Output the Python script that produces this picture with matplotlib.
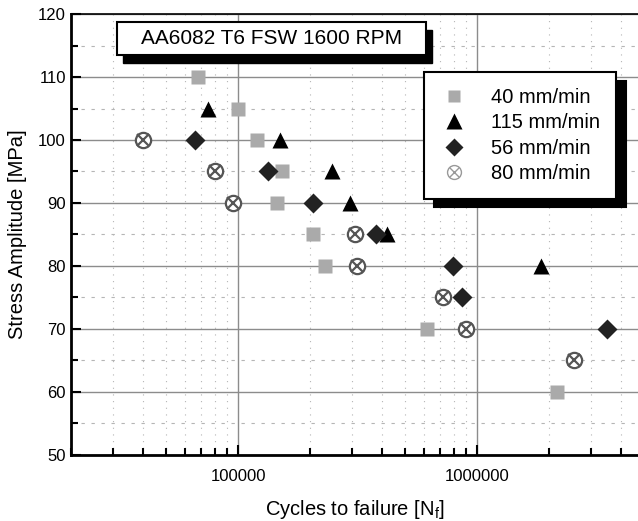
import matplotlib
matplotlib.use('Agg')
import matplotlib.pyplot as plt
from matplotlib.lines import Line2D
from matplotlib.patches import Rectangle
from matplotlib.ticker import FixedLocator, FuncFormatter, NullFormatter, LogLocator, MultipleLocator

plt.rcParams['font.family'] = ['Liberation Sans', 'DejaVu Sans']

# S-N data (cycles, stress amplitude MPa)
n_40 = [68000, 100000, 120000, 145000, 152000, 205000, 232000, 617000, 2150000]
s_40 = [110, 105, 100, 90, 95, 85, 80, 70, 60]

n_115 = [75000, 150000, 248000, 295000, 420000, 1850000]
s_115 = [105, 100, 95, 90, 85, 80]

n_56 = [66000, 134000, 205000, 378000, 789000, 863000, 3475000]
s_56 = [100, 95, 90, 85, 80, 75, 70]

n_80 = [40000, 80000, 95000, 308000, 315000, 717000, 897000, 2540000]
s_80 = [100, 95, 90, 85, 80, 75, 70, 65]

labels = ['40 mm/min', '115 mm/min', '56 mm/min', '80 mm/min']
title_text = 'AA6082 T6 FSW 1600 RPM'

fig = plt.figure(figsize=(6.38, 5.21), dpi=100)
ax = fig.add_axes([0.111, 0.127, 0.889, 0.846])

ax.plot(n_40, s_40, 's', color='#aaaaaa', ms=10, mec='none', zorder=5)
ax.plot(n_115, s_115, '^', color='black', ms=11, mec='none', zorder=5)
ax.plot(n_56, s_56, 'D', color='#222222', ms=10, mec='none', zorder=5)
ax.plot(n_80, s_80, 'o', mfc='white', mec='#555555', ms=11, mew=1.6, zorder=5)
ax.plot(n_80, s_80, 'x', color='#555555', ms=8, mew=1.6, zorder=6)

ax.set_xscale('log')
ax.set_xlim(20000, 4700000)
ax.set_ylim(50, 120)

ax.xaxis.set_major_locator(FixedLocator([100000, 1000000]))
ax.xaxis.set_major_formatter(FuncFormatter(lambda v, p: f'{int(round(v))}'))
ax.xaxis.set_minor_locator(LogLocator(base=10, subs=range(2, 10)))
ax.xaxis.set_minor_formatter(NullFormatter())
ax.yaxis.set_major_locator(MultipleLocator(10))
ax.yaxis.set_minor_locator(MultipleLocator(5))

ax.tick_params(which='both', direction='in', labelsize=12, width=1.5)
ax.tick_params(which='major', length=7)
ax.tick_params(which='minor', length=5)
ax.tick_params(axis='x', pad=10)

ax.grid(which='major', color='#8c8c8c', lw=1)
ax.grid(which='minor', axis='x', color='#b5b5b5', lw=0.8, linestyle=(0, (1, 5)))
ax.grid(which='minor', axis='y', color='#b5b5b5', lw=0.8, linestyle=(0, (3, 6)))

ax.spines['left'].set_linewidth(2)
ax.spines['bottom'].set_linewidth(2)
ax.spines['top'].set_linewidth(1.2)
ax.spines['right'].set_visible(False)

ax.set_xlabel('Cycles to failure [N$_\\mathregular{f}$]', fontsize=14.5, labelpad=10)
ax.set_ylabel('Stress Amplitude [MPa]', fontsize=14.5, labelpad=8)

# title box with black drop shadow
ax.add_patch(Rectangle((0.092, 0.889), 0.545, 0.075, transform=ax.transAxes,
                       facecolor='black', edgecolor='black', zorder=8, clip_on=False))
ax.add_patch(Rectangle((0.081, 0.907), 0.545, 0.075, transform=ax.transAxes,
                       facecolor='white', edgecolor='black', lw=1.5, zorder=9, clip_on=False))
ax.text(0.3535, 0.944, title_text, transform=ax.transAxes, ha='center', va='center',
        fontsize=15, zorder=10)

# legend with shadow
h40 = Line2D([], [], ls='none', marker='s', color='#aaaaaa', ms=9, mec='none')
h115 = Line2D([], [], ls='none', marker='^', color='black', ms=11, mec='none')
h56 = Line2D([], [], ls='none', marker='D', color='#222222', ms=9, mec='none')
h80a = Line2D([], [], ls='none', marker='o', mfc='white', mec='#999999', ms=10, mew=1)
h80b = Line2D([], [], ls='none', marker='x', color='#999999', ms=7, mew=1)
leg = ax.legend([h40, h115, h56, (h80a, h80b)], labels,
                loc='upper left', bbox_to_anchor=(0.623, 0.868), borderaxespad=0,
                fontsize=14.5, frameon=True, fancybox=False, edgecolor='black',
                framealpha=1, handletextpad=1.15, labelspacing=0.32, borderpad=0.78,
                handlelength=1.4,
                shadow={'ox': 7, 'oy': -6, 'color': 'black', 'alpha': 1})
leg.get_frame().set_linewidth(1.5)
leg.set_zorder(10)

fig.savefig('out.png', dpi=100)
